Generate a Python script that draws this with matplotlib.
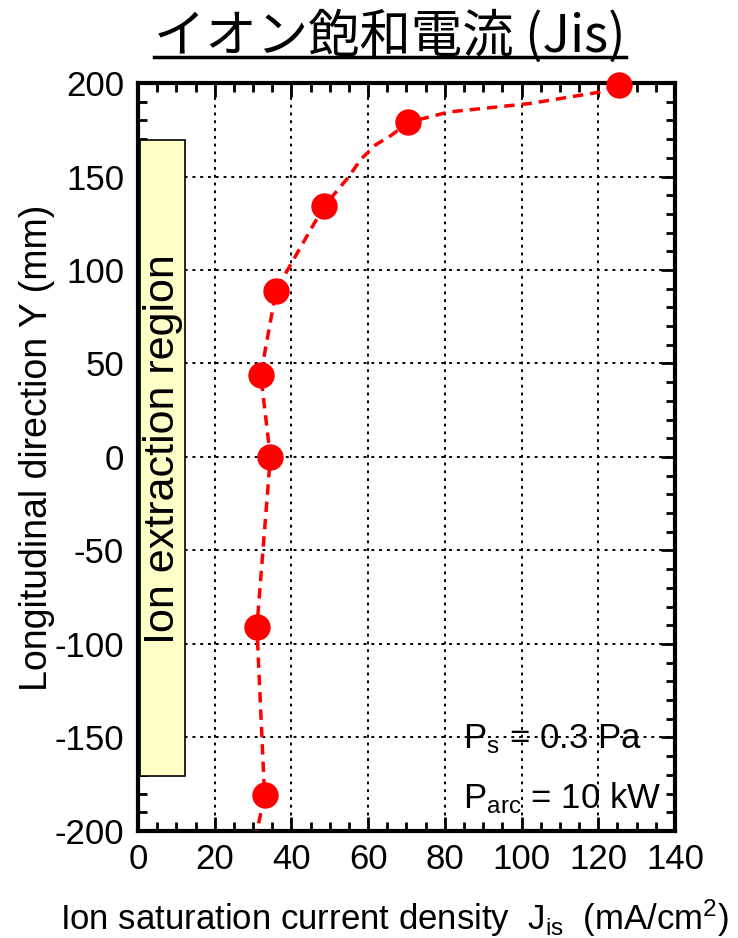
import matplotlib
matplotlib.use('Agg')
import matplotlib.pyplot as plt
from matplotlib.lines import Line2D
from matplotlib.patches import Rectangle
from matplotlib.ticker import MultipleLocator

plt.rcParams['font.family'] = ['Liberation Sans', 'DejaVu Sans']
plt.rcParams['mathtext.default'] = 'regular'
plt.rcParams['axes.unicode_minus'] = False

# measured Jis along the longitudinal direction
pos_y = [199, 179, 134, 89, 44, 0, -91, -181]
jis = [125.5, 70.5, 48.5, 36, 32, 34.5, 31, 33]

# trend curve drawn through the measurements
curve_jis = [30.5, 33, 31, 34.5, 32, 36, 39, 44, 48.5, 55, 58, 62, 66, 70.5, 81, 102, 120, 125.5]
curve_y = [-205, -181, -91, 0, 44, 89, 100, 118, 134, 150, 159, 167, 172, 179, 184.5, 189, 195, 199]

xticks = [0, 20, 40, 60, 80, 100, 120, 140]
yticks = [-200, -150, -100, -50, 0, 50, 100, 150, 200]

# ion extraction region (shaded band)
region_jis = [0.5, 12.3]
region_y = [-170.5, 169.5]

fig = plt.figure(figsize=(7.38, 9.38), dpi=100)
ax = fig.add_axes([0.187, 0.1141, 0.7276, 0.7974])

ax.set_xlim(0, 140)
ax.set_ylim(-200, 200)
ax.set_xticks(xticks)
ax.set_yticks(yticks)
ax.xaxis.set_minor_locator(MultipleLocator(5))
ax.yaxis.set_minor_locator(MultipleLocator(10))
ax.tick_params(which='both', direction='in', top=True, right=True, width=2,
               labelsize=25, colors='black')
ax.tick_params(which='major', length=10)
ax.tick_params(which='minor', length=6.5)
ax.tick_params(axis='y', pad=10)
ax.tick_params(axis='x', pad=9)
for sp in ax.spines.values():
    sp.set_linewidth(3)

ax.set_axisbelow(True)
ax.grid(True, which='major', color='black', linestyle=(0, (1.5, 2.5)), linewidth=1.4)

ax.add_patch(Rectangle((region_jis[0], region_y[0]), region_jis[1] - region_jis[0],
                       region_y[1] - region_y[0], facecolor='#FFFFC8',
                       edgecolor='black', linewidth=1.2, zorder=1))
ax.text((region_jis[0] + region_jis[1]) / 2, 4, 'Ion extraction region',
        rotation=90, ha='center', va='center', fontsize=31, zorder=2)

ax.plot(curve_jis, curve_y, color='#FF0000', linestyle=(0, (3, 2)), linewidth=2.5, zorder=3)
ax.plot(jis, pos_y, 'o', color='#FF0000', markersize=19, markeredgewidth=0,
        zorder=4, clip_on=False)

ax.text(84.7, -155.6, r'P$_{s}$ = 0.3 Pa', fontsize=25, va='baseline', ha='left', zorder=2)
ax.text(84.7, -187.7, r'P$_{arc}$ = 10 kW', fontsize=25, va='baseline', ha='left', zorder=2)

fig.text(0.05, 0.523, 'Longitudinal direction Y (mm)', rotation=90,
         ha='center', va='center', fontsize=27)
fig.text(0.535, 0.0085, r'Ion saturation current density  J$_{is}$  (mA/cm$^{2}$)',
         ha='center', va='baseline', fontsize=25)

title = fig.text(0.5285, 1 - 37 / 938, 'イオン飽和電流 (Jis)', ha='center', va='center',
                 fontsize=37, family=['Noto Sans CJK JP', 'DejaVu Sans'])

# underline under the title
fig.canvas.draw()
bb = title.get_window_extent().transformed(fig.transFigure.inverted())
uy = 1 - 57 / 938
fig.add_artist(Line2D([bb.x0, bb.x1], [uy, uy], color='black', linewidth=2.5,
                      transform=fig.transFigure))

fig.savefig('out.png', dpi=100)
